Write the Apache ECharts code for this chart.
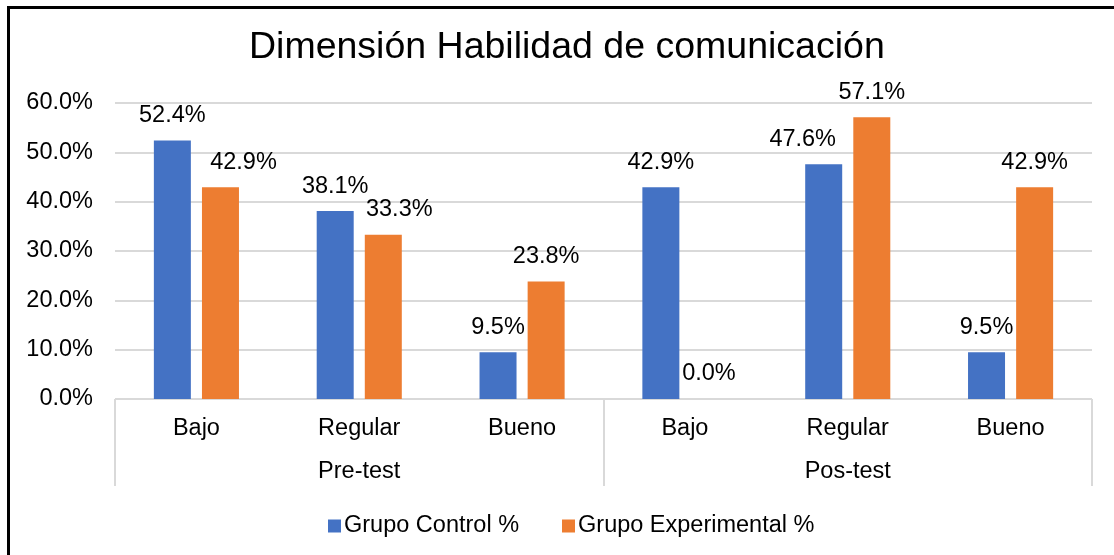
<!DOCTYPE html>
<html>
<head>
<meta charset="utf-8">
<script src="https://cdn.jsdelivr.net/npm/echarts@6/dist/echarts.min.js"></script>
<style>
  html, body { margin: 0; padding: 0; background: #fff; }
  #chart { width: 1114px; height: 555px; }
</style>
</head>
<body>
<div id="chart"></div>
<script>
// datos
const levels = ["Bajo", "Regular", "Bueno", "Bajo", "Regular", "Bueno"];
const phases = ["Pre-test", "Pos-test"];
const control = [52.4, 38.1, 9.5, 42.9, 47.6, 9.5];
const experimental = [42.9, 33.3, 23.8, 0.0, 57.1, 42.9];
const yTicks = [0, 10, 20, 30, 40, 50, 60];

// desplazamiento horizontal de algunas etiquetas (como en el original)
const controlNudge = [0, 0, 0, 0, -21, 0];
const experimentalNudge = [23, 16, 0, 0, 0, 0];

const font = "'Liberation Sans', Arial, sans-serif";
const grey = "#d9d9d9";

const chart = echarts.init(document.getElementById("chart"));

const withNudge = (values, nudge) =>
  values.map((v, i) => ({
    value: v,
    label: { offset: [nudge[i], 0] },
  }));

const barLabel = {
  show: true,
  position: "top",
  distance: 13,
  color: "#000",
  fontFamily: font,
  fontSize: 23.5,
  formatter: (p) => p.value.toFixed(1) + "%",
};

const option = {
  animation: false,
  title: {
    text: "Dimensión Habilidad de comunicación",
    left: 244,
    top: 24,
    textStyle: {
      fontFamily: font,
      fontSize: 37.5,
      fontWeight: "normal",
      color: "#000",
    },
  },
  legend: {
    data: ["Grupo Control %", "Grupo Experimental %"],
    left: 323,
    top: 509,
    icon: "rect",
    itemWidth: 13,
    itemHeight: 13,
    itemGap: 43,
    textStyle: { fontFamily: font, fontSize: 23.5, color: "#000", padding: [0, 0, 0, -2] },
  },
  grid: {
    left: 115,
    right: 22,
    top: 103,
    bottom: 156,
  },
  xAxis: [
    {
      type: "category",
      data: levels,
      axisLine: { lineStyle: { color: grey, width: 1 } },
      axisTick: { show: false },
      axisLabel: {
        interval: 0,
        margin: 18,
        color: "#000",
        fontFamily: font,
        fontSize: 23.5,
      },
    },
    {
      type: "category",
      data: phases,
      position: "bottom",
      offset: 87,
      axisLine: { show: false },
      axisTick: {
        show: true,
        inside: true,
        length: 87,
        lineStyle: { color: grey, width: 2 },
      },
      axisLabel: {
        inside: true,
        margin: 2,
        color: "#000",
        fontFamily: font,
        fontSize: 23.5,
      },
    },
  ],
  yAxis: {
    type: "value",
    min: yTicks[0],
    max: yTicks[yTicks.length - 1],
    interval: 10,
    axisLine: { show: false },
    axisTick: { show: false },
    splitLine: { lineStyle: { color: grey, width: 2 } },
    axisLabel: {
      margin: 22,
      color: "#000",
      fontFamily: font,
      fontSize: 23.5,
      formatter: (v) => v.toFixed(1) + "%",
    },
  },
  series: [
    {
      name: "Grupo Control %",
      type: "bar",
      xAxisIndex: 0,
      barWidth: 37,
      barGap: "30%",
      itemStyle: { color: "#4472C4" },
      label: barLabel,
      data: withNudge(control, controlNudge),
    },
    {
      name: "Grupo Experimental %",
      type: "bar",
      xAxisIndex: 0,
      barWidth: 37,
      barGap: "30%",
      itemStyle: { color: "#ED7D31" },
      label: barLabel,
      data: withNudge(experimental, experimentalNudge),
    },
  ],
  graphic: [
    {
      type: "rect",
      shape: { x: 8.5, y: 7.5, width: 1200, height: 600 },
      style: { fill: "none", stroke: "#000", lineWidth: 3 },
      silent: true,
    },
  ],
};

chart.setOption(option);
</script>
</body>
</html>
